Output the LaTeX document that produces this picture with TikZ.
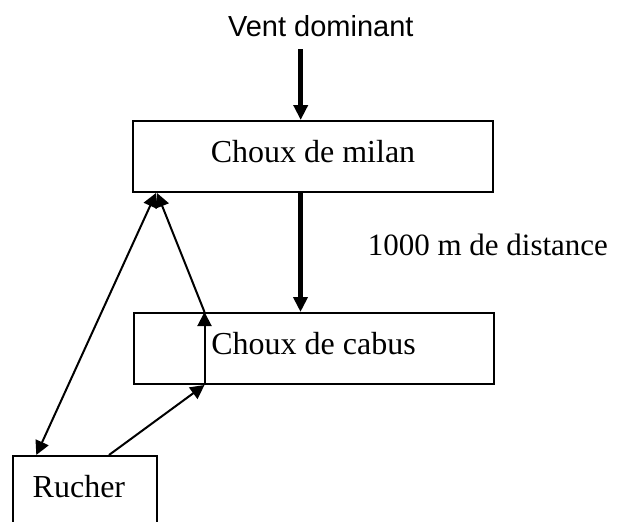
\documentclass[tikz,border=0pt]{standalone}
\usepackage{fontspec}
\setmainfont{Liberation Serif}
\newfontfamily\sansf{Liberation Sans}
\usetikzlibrary{arrows.meta}
\begin{document}
\begin{tikzpicture}[x=1pt,y=-1pt,
  box/.style={draw,line width=2pt,minimum width=360pt,minimum height=71pt,inner sep=0pt,
    text height=23pt,text depth=11.4pt,font=\fontsize{32}{38}\selectfont},
  thick arrow/.style={line width=5pt,-{Triangle[width=14pt,length=15pt]}},
  thin arrow/.style={line width=2pt,-{Triangle[width=14pt,length=14pt]}},
  both arrow/.style={line width=2pt,{Triangle[width=14pt,length=14pt]}-{Triangle[width=14pt,length=14pt]}}]
\clip (0,0) rectangle (619,522);
\fill[white] (0,0) rectangle (619,522);
\node[box] (milan) at (313,156.5) {Choux de milan};
\node[box] (cabus) at (313.5,348.5) {Choux de cabus};
\node[box,minimum width=144pt,text width=104pt,inner xsep=20pt,align=left] (rucher) at (84.7,491.5) {Rucher};
\node[anchor=base,font=\sansf\fontsize{29}{35}\selectfont] (vent) at (320.8,36) {Vent dominant};
\node[anchor=base east,font=\fontsize{31}{37}\selectfont] (dist) at (611.5,255) {1000 m de distance};
\coordinate (ventstart) at (300.7,49.3);
\draw[thick arrow] (ventstart) -- (ventstart |- milan.north);
\draw[thick arrow] ([xshift=-12.5pt]milan.south) -- ([xshift=-13pt]cabus.north);
\draw[both arrow] ([xshift=24.6pt]rucher.north west) -- ([xshift=24pt]milan.south west);
\draw[thin arrow] ([xshift=72pt]cabus.north west) -- ([xshift=25pt]milan.south west);
\draw[thin arrow] ([xshift=72pt]cabus.south west) -- ([xshift=72pt]cabus.north west);
\draw[thin arrow] ([xshift=97.3pt]rucher.north west) -- ([xshift=72pt]cabus.south west);
\end{tikzpicture}
\end{document}
